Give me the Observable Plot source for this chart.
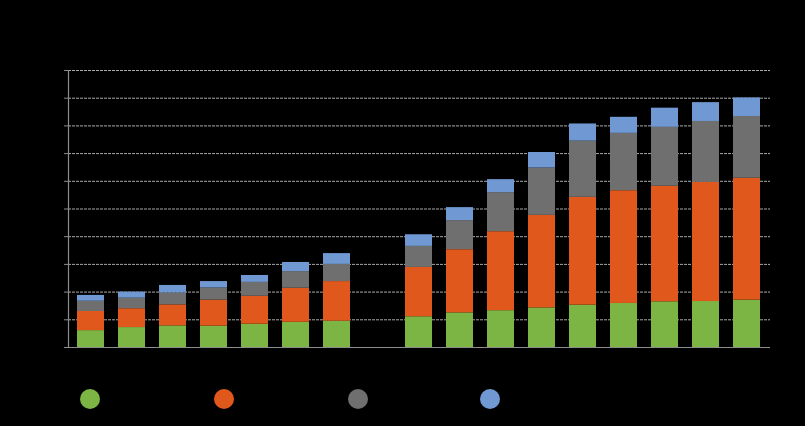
<!DOCTYPE html>
<html>
<head>
<meta charset="utf-8">
<script src="https://cdn.jsdelivr.net/npm/d3@7"></script>
<script src="https://cdn.jsdelivr.net/npm/@observablehq/plot@0.6"></script>
<style>
  html, body { margin: 0; padding: 0; background: #000; }
  #wrap { position: relative; width: 805px; height: 426px; background: #000; font-family: "Liberation Sans", Arial, sans-serif; }
  #legend { position: absolute; left: 0; top: 389px; width: 805px; height: 20px; }
  .item { position: absolute; top: 0; height: 20px; display: flex; align-items: center; color: #000; font-size: 13px; }
  .sw { width: 20px; height: 20px; border-radius: 50%; margin-right: 8px; }
</style>
</head>
<body>
<div id="wrap">
  <div id="chart"></div>
  <div id="legend"></div>
</div>
<script>
// Categories (labels are black on black in the reference)
const yearsA = ["2010", "2011", "2012", "2013", "2014", "2015", "2016"];
const yearsB = ["2020", "2021", "2022", "2023", "2024", "2025", "2026", "2027", "2028"];
const gapLabel = " ";
const seriesNames = ["Series 1", "Series 2", "Series 3", "Series 4"];
const seriesColors = ["#7db544", "#e0581c", "#6f6f6f", "#7099d3"];

// Segment values (stack order: bottom to top)
const series1 = [0.61, 0.72, 0.78, 0.77, 0.84, 0.91, 0.95, 1.11, 1.25, 1.33, 1.43, 1.53, 1.59, 1.65, 1.66, 1.71];
const series2 = [0.69, 0.68, 0.76, 0.94, 1.01, 1.23, 1.43, 1.78, 2.28, 2.85, 3.34, 3.89, 4.07, 4.17, 4.30, 4.40];
const series3 = [0.37, 0.38, 0.43, 0.44, 0.50, 0.60, 0.62, 0.76, 1.05, 1.41, 1.71, 2.03, 2.07, 2.13, 2.20, 2.23];
const series4 = [0.21, 0.22, 0.27, 0.23, 0.25, 0.33, 0.39, 0.42, 0.47, 0.47, 0.56, 0.62, 0.58, 0.69, 0.68, 0.67];
const yTicks = [0, 1, 2, 3, 4, 5, 6, 7, 8, 9, 10];

const years = [...yearsA, ...yearsB];
const xDomain = [...yearsA, gapLabel, ...yearsB];
const allSeries = [series1, series2, series3, series4];
const data = [];
allSeries.forEach((vals, si) => {
  vals.forEach((v, i) => data.push({ year: years[i], series: seriesNames[si], value: v }));
});

const chart = Plot.plot({
  width: 805,
  height: 426,
  marginTop: 70,
  marginBottom: 79,
  marginLeft: 68,
  marginRight: 35,
  style: { background: "#000", color: "#000", fontFamily: "Liberation Sans, Arial, sans-serif", fontSize: "12px" },
  x: { domain: xDomain, paddingInner: 0.34, paddingOuter: 0.18, label: null },
  y: { domain: [0, 10], label: null },
  color: { domain: seriesNames, range: seriesColors },
  marks: [
    Plot.ruleY(yTicks.filter(d => d > 0), { stroke: "#a8a8a8", strokeDasharray: "3,1", strokeWidth: 1 }),
    Plot.barY(data, { x: "year", y: "value", fill: "series" }),
    Plot.ruleY([0], { stroke: "#8c8c8c", strokeWidth: 1.2 }),
    Plot.frame({ anchor: "left", stroke: "#8c8c8c", strokeWidth: 1.2 }),
    Plot.axisY(yTicks, { tickSize: 4, stroke: "#8c8c8c", fill: "#000", tickPadding: 4 }),
    Plot.axisX({ tickSize: 0, fill: "#000", tickPadding: 8 })
  ]
});
document.getElementById("chart").appendChild(chart);

const legend = document.getElementById("legend");
const legendX = [80, 214, 348, 480];
seriesNames.forEach((name, i) => {
  const item = document.createElement("div");
  item.className = "item";
  item.style.left = legendX[i] + "px";
  const sw = document.createElement("span");
  sw.className = "sw";
  sw.style.background = seriesColors[i];
  const label = document.createElement("span");
  label.textContent = name;
  item.appendChild(sw);
  item.appendChild(label);
  legend.appendChild(item);
});
</script>
</body>
</html>
